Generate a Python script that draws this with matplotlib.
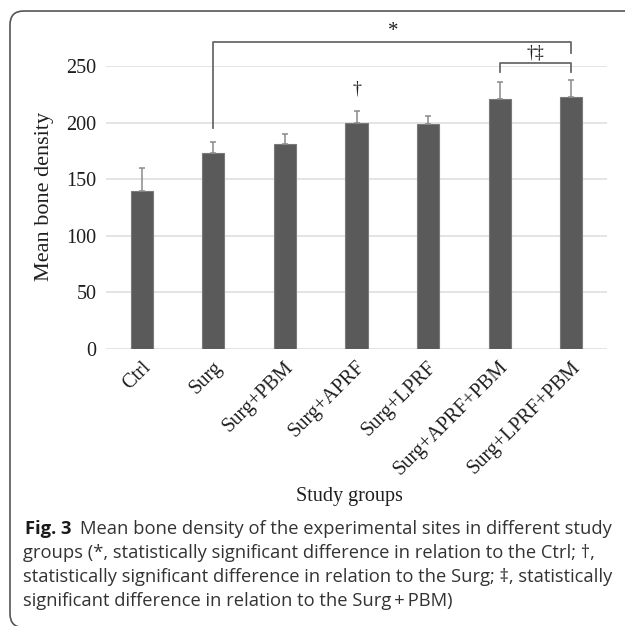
import matplotlib
matplotlib.use("Agg")
import matplotlib.pyplot as plt
import matplotlib.transforms as mtransforms
from matplotlib.patches import FancyBboxPatch

# data
groups = ["Ctrl", "Surg", "Surg+PBM", "Surg+APRF", "Surg+LPRF",
          "Surg+APRF+PBM", "Surg+LPRF+PBM"]
means = [140, 173, 181, 200, 198.5, 221, 222.5]
errors = [20, 10, 9, 10, 7.5, 14.5, 15]
yticks = [0, 50, 100, 150, 200, 250]

caption = [
    "groups (*, statistically significant difference in relation to the Ctrl; \u2020,",
    "statistically significant difference in relation to the Surg; \u2021, statistically",
    "significant difference in relation to the Surg\u2009+\u2009PBM)",
]

W, H = 625, 626
serif = ["Liberation Serif", "DejaVu Serif"]
sans = ["Open Sans", "DejaVu Sans"]

fig = plt.figure(figsize=(W / 100, H / 100), dpi=100)

# axes placed in pixel terms: x 106..607, y(0)=349, y(250)=66
ax = fig.add_axes([106 / W, (H - 349) / H, 501 / W, 283 / H])
x = list(range(len(groups)))
ax.bar(x, means, width=0.31, color="#5a5a5a", edgecolor="#7a7a7a",
       linewidth=0.8, zorder=3)
ax.errorbar(x, means, yerr=[[0] * len(errors), errors], fmt="none",
            ecolor="#8a8a8a", elinewidth=1.1, capsize=2.5, capthick=1.1, zorder=4)

ax.set_xlim(-0.5, len(groups) - 0.5)
ax.set_ylim(0, 250)
ax.set_yticks(yticks)
ax.yaxis.grid(True, color="#dcdcdc", linewidth=1.1, zorder=0)
ax.set_axisbelow(True)
for s in ax.spines.values():
    s.set_visible(False)
ax.tick_params(length=0)
ax.tick_params(axis="y", pad=7, labelsize=14.5)
ax.set_yticklabels([str(v) for v in yticks], family=serif, color="#1e1e1e")
ax.set_xticks(x)
ax.set_xticklabels(groups, rotation=45, ha="right", va="center",
                   rotation_mode="anchor", family=serif, fontsize=14.5,
                   color="#1e1e1e")
ax.tick_params(axis="x", pad=11)
shift = mtransforms.ScaledTranslation(0.06, 0, fig.dpi_scale_trans)
for lab in ax.get_xticklabels():
    lab.set_transform(lab.get_transform() + shift)

# significance brackets
bc = "#6a6a6a"
top = 271
ax.plot([1, 1, 6, 6], [means[1] + errors[1] + 12, top, top, top - 9.5],
        color=bc, lw=1.3, clip_on=False, zorder=5)
ax.text(3.52, top + 1, "*", ha="center", va="bottom", fontsize=15,
        family=serif, color="#1e1e1e")
low = 252.5
ax.plot([5, 5, 6, 6], [low - 7.5, low, low, low - 7.5],
        color=bc, lw=1.3, clip_on=False, zorder=5)
ax.text(5.5, low + 1.5, "\u2020\u2021", ha="center", va="bottom",
        fontsize=13, family=serif, color="#1e1e1e")
ax.text(3, means[3] + errors[3] + 12, "\u2020", ha="center", va="bottom",
        fontsize=13, family=serif, color="#1e1e1e")

fig.text(45 / W, 1 - 196 / H, "Mean bone density", rotation=90,
         ha="center", va="center", fontsize=16, family=serif, color="#1e1e1e")
fig.text(349 / W, 1 - 496 / H, "Study groups", ha="center", va="center",
         fontsize=14.5, family=serif, color="#1e1e1e")

# caption
fs = 13.2
y0, dy = 529, 24
r = fig.canvas.get_renderer()
t = fig.text(25 / W, 1 - y0 / H, "Fig. 3", ha="left", va="center",
             fontsize=fs, fontweight="bold", family=sans, color="#1a1a1a")
bb = t.get_window_extent(renderer=r)
fig.text((bb.x1 + 9) / W, 1 - y0 / H,
         "Mean bone density of the experimental sites in different study",
         ha="left", va="center", fontsize=fs, family=sans, color="#333333")
for i, line in enumerate(caption):
    fig.text(23 / W, 1 - (y0 + dy * (i + 1)) / H, line, ha="left", va="center",
             fontsize=fs, family=sans, color="#333333")

# rounded frame, open at right and bottom
frame = FancyBboxPatch((10 / W, -1.5 / H), 660 / W, (H - 11 + 1.5) / H,
                       boxstyle="round,pad=0,rounding_size=0.022",
                       transform=fig.transFigure, facecolor="none",
                       edgecolor="#555555", linewidth=1.2)
fig.patches.append(frame)

fig.savefig("out.png", dpi=100)
